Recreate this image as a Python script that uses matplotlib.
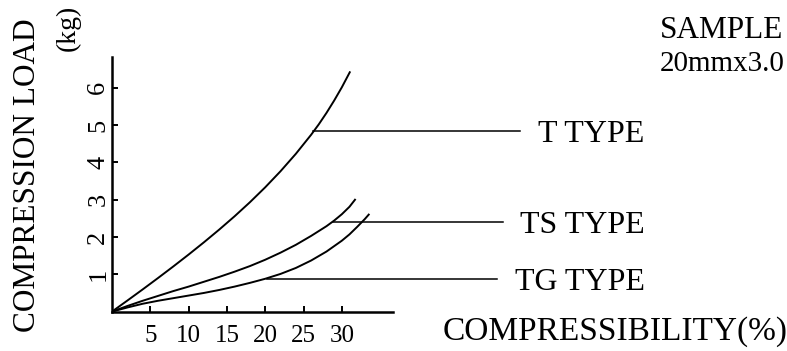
import matplotlib
matplotlib.use("Agg")
import matplotlib.pyplot as plt

plt.rcParams['font.family'] = ['Liberation Serif', 'DejaVu Serif']

# Data (compressibility %, compression load kg)
t_x = [0, 2, 4, 6, 8, 10, 12, 14, 16, 18, 20, 22, 24, 26, 27, 28, 29, 30, 31.1]
t_y = [0, 0.295, 0.594, 0.899, 1.21, 1.529, 1.858, 2.199, 2.555, 2.931, 3.332,
       3.763, 4.23, 4.742, 5.022, 5.327, 5.657, 6.012, 6.44]

ts_x = [0, 2, 4, 6, 8, 10, 12, 14, 16, 18, 20, 22, 24, 26, 28, 29, 30, 31, 31.8]
ts_y = [0, 0.15, 0.29, 0.42, 0.55, 0.67, 0.80, 0.93, 1.07, 1.22, 1.39, 1.58,
        1.79, 2.03, 2.29, 2.44, 2.61, 2.81, 3.02]

tg_x = [0, 2, 4, 6, 8, 10, 12, 14, 16, 18, 20, 22, 24, 26, 28, 30, 31, 32, 33, 33.6]
tg_y = [0, 0.11, 0.21, 0.29, 0.36, 0.43, 0.50, 0.58, 0.67, 0.77, 0.88, 1.01,
        1.17, 1.37, 1.61, 1.90, 2.07, 2.27, 2.48, 2.62]

series_names = ["T TYPE", "TS TYPE", "TG TYPE"]
# leader-line anchor points on each curve (x %, y kg) and leader end (x %)
leader_x0 = [26.3, 28.85, 20.2]
leader_y = [4.83, 2.41, 0.87]
leader_x1 = [53.3, 51.0, 50.3]

x_ticks = [5, 10, 15, 20, 25, 30]
y_ticks = [1, 2, 3, 4, 5, 6]

W, H = 787, 351
fig = plt.figure(figsize=(W / 100, H / 100), dpi=100)
fig.patch.set_facecolor('white')

ax_l, ax_r, ax_t, ax_b = 112, 393, 57, 311.6
ax = fig.add_axes([ax_l / W, 1 - ax_b / H, (ax_r - ax_l) / W, (ax_b - ax_t) / H])
xmax = (ax_r - ax_l) / 7.66
ymax = (ax_b - ax_t) / 37.3
ax.set_xlim(0, xmax)
ax.set_ylim(0, ymax)

for s in ['top', 'right']:
    ax.spines[s].set_visible(False)
for s in ['left', 'bottom']:
    ax.spines[s].set_linewidth(1.8)
    ax.spines[s].set_color('black')

lw = 1.4
for xs, ys in [(t_x, t_y), (ts_x, ts_y), (tg_x, tg_y)]:
    ax.plot(xs, ys, color='black', lw=lw, solid_capstyle='butt',
            solid_joinstyle='round')

for name, x0, y, x1 in zip(series_names, leader_x0, leader_y, leader_x1):
    ax.plot([x0, x1], [y, y], color='black', lw=1.1, clip_on=False)
    ax.text(x1 + 2.3, y, name, fontsize=23, va='center_baseline', ha='left',
            clip_on=False)

ax.set_xticks(x_ticks)
ax.set_yticks(y_ticks)
ax.set_xticklabels([str(v) for v in x_ticks])
ax.set_yticklabels([str(v) for v in y_ticks], rotation=90, va='center')
ax.tick_params(axis='x', direction='in', length=4, width=1.4, labelsize=18, pad=10)
ax.tick_params(axis='y', direction='in', length=4, width=1.4, labelsize=19, pad=2)

fig.text(443 / W, 1 - 328 / H, "COMPRESSIBILITY(%)", fontsize=24,
         ha='left', va='center_baseline')
fig.text(28 / W, 1 - 175 / H, "COMPRESSION LOAD", fontsize=22.5, rotation=90,
         ha='center', va='center')
fig.text(68 / W, 1 - 28 / H, "(kg)", fontsize=20, rotation=90,
         ha='center', va='center')
fig.text(660 / W, 1 - 27 / H, "SAMPLE", fontsize=22.5, ha='left', va='center_baseline')
fig.text(660 / W, 1 - 61 / H, "20mmx3.0", fontsize=21, ha='left', va='center_baseline')

fig.savefig("out.png", dpi=100, facecolor='white')
